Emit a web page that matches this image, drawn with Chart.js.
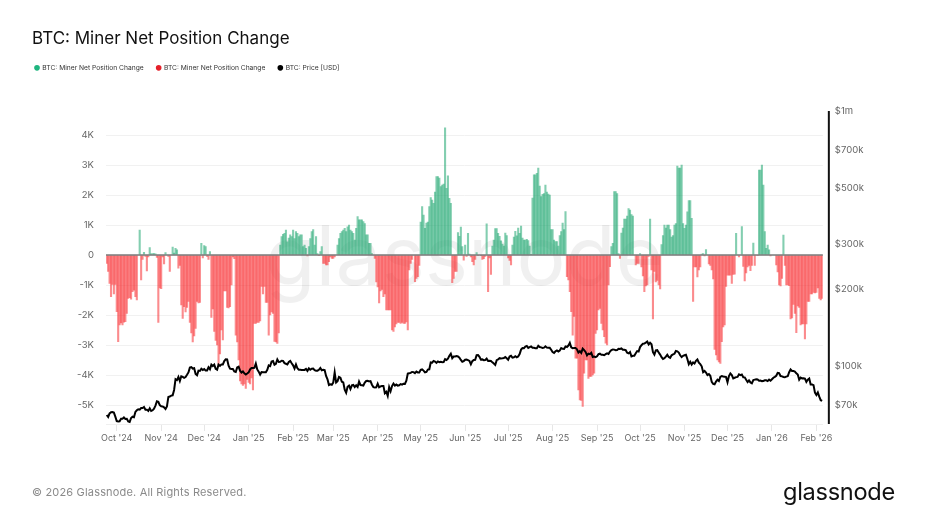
<!DOCTYPE html>
<html><head><meta charset="utf-8">
<style>
html,body{margin:0;padding:0;background:#fff;width:952px;height:517px;overflow:hidden;font-family:Inter,sans-serif}
#wrap{position:relative;width:952px;height:517px}
canvas{position:absolute;left:0;top:0}
.t{position:absolute;white-space:nowrap}
#title{left:32px;top:27px;font-size:17px;line-height:22px;color:#111}
#copy{left:32px;top:484px;font-size:11px;line-height:16px;color:#8a8a8a;letter-spacing:.17px}
#logo{left:783px;top:476px;font-size:23.6px;line-height:32px;color:#111;letter-spacing:-.3px}
</style></head><body>
<div id="wrap">
<canvas id="c" width="952" height="517"></canvas>
<div class="t" id="title">BTC: Miner Net Position Change</div>
<div class="t" id="copy">© 2026 Glassnode. All Rights Reserved.</div>
<div class="t" id="logo">glassnode</div>
</div>
<script src="https://cdn.jsdelivr.net/npm/chart.js@4/dist/chart.umd.js"></script>
<script>
const firstDay = [2024, 8, 24];
const netChange = [
-280,-550,-950,-1390,-980,-1300,-980,-1890,-2890,-2330,
-2260,-2330,-2240,-2220,-1950,-1450,-1420,-1470,-1220,-1170,
-1390,-1500,0,830,-830,-150,90,-50,-530,-60,
250,40,50,50,40,-80,-2250,-1100,-1120,-60,
-300,80,0,-50,-550,0,260,60,220,170,
-440,-350,-1660,-2110,-1720,-1900,-1750,-1550,-2250,-2600,
-2900,-2700,-2450,-1550,-1600,-1580,390,-100,310,280,
-50,-150,110,-2080,-1800,-2550,-2850,-3000,-3660,-3300,
-2500,-2830,-1200,-1200,-1750,-1760,-1720,-1000,-60,-120,
-2670,-2900,-3500,-4200,-4300,-4350,-4300,-4450,-4150,-4250,
-4300,-4100,-4500,-2280,-2280,-2250,-2250,-2200,-1050,-1300,
-1050,-1580,-1580,-2670,-2000,-1900,-1950,-2880,-2900,-2950,
-2600,330,610,690,720,830,440,560,670,610,
830,550,780,720,610,670,670,280,330,220,
-30,280,550,780,850,330,610,50,-20,110,
280,-280,-280,-330,-330,-220,-60,-110,-110,-60,
0,330,550,720,780,830,890,780,940,1000,
830,780,720,500,890,1280,1170,1170,1170,1110,
1050,670,670,390,390,50,0,-110,-900,-1060,
-1600,-1200,-1150,-1390,-1300,-1830,-1830,-1830,-1830,-2500,
-2550,-2400,-2300,-2250,-2250,-2280,-2250,-2280,-2280,-2230,
-2500,-500,-280,-150,0,-890,-780,-720,-350,1100,
1610,1330,890,1060,1100,1610,1910,1830,1720,2100,
2610,2610,2560,2280,2330,2360,4240,2220,2640,1890,
1720,-920,-780,-550,-550,750,620,930,280,-170,
330,-50,720,30,-60,-220,-330,-150,80,-20,
0,-10,-150,-120,-50,1040,-1220,-100,-650,300,
500,880,880,720,620,470,360,300,730,650,
-100,-180,-330,330,600,790,640,900,720,960,
560,500,500,520,480,300,20,1900,2670,2670,
2720,2900,2300,1950,2020,2050,2330,2100,2030,2000,
850,850,500,450,450,300,650,780,1060,850,
1450,-720,-830,-1220,-1890,-2670,-2050,-3440,-3440,-4500,
-4830,-4850,-5050,-3940,-3500,-3500,-4110,-4050,-4050,-4000,
-3940,-2610,-2500,-1830,-1780,-2280,-2500,-2720,-2940,-3000,
-1000,-390,280,390,2110,2110,2050,50,-110,730,
900,1200,1200,1300,1550,1500,1350,1300,0,-330,
-280,-280,50,-400,-700,-1220,-1030,-1000,-50,1200,
-500,-2130,-550,-900,-850,-1000,-1130,350,650,1000,
900,1000,1000,850,600,650,1000,1050,2960,2900,
2900,3000,1050,890,1000,1440,1810,1810,1220,-1550,
-400,-400,-730,-500,-400,30,50,-30,180,0,
-300,-350,-500,-800,-3150,-3330,-3500,-3560,-3610,-2890,
-2400,-2330,-1050,-670,-670,-670,-950,-650,-640,720,
0,-60,0,950,-380,-860,-600,-400,-350,-520,
-350,400,-350,0,-20,2830,2830,3000,2330,780,
220,330,170,-30,0,0,0,-330,-560,-1000,
-1030,-780,660,-350,-1000,-1000,-1020,-2130,-2100,-1650,
-1950,-2590,-1700,-1750,-2330,-2300,-2300,-2800,-2300,-1550,
-1550,-1300,-1300,-1250,-1260,-1250,-1100,-1450,-1500,-1450
];
const priceK = [
64.2,63.1,65.2,65.8,65.9,65.6,63.3,
60.8,60.6,60.7,62.1,62.1,62.8,62.0,62.1,60.6,60.3,62.5,63.2,62.9,66.0,67.0,67.6,67.4,68.4,68.4,69.0,67.4,67.4,66.6,68.2,66.6,67.0,68.0,69.9,72.7,72.3,70.2,
69.5,69.4,68.8,67.8,69.4,75.6,75.9,76.5,76.7,80.5,88.7,88.0,90.5,87.3,91.1,90.6,89.8,90.5,92.3,94.3,98.5,99.0,97.7,98.0,93.0,91.9,95.9,95.6,97.5,96.4,
97.2,95.9,96.0,98.8,97.0,101.2,99.9,101.2,97.4,96.6,101.2,100.0,101.4,101.4,104.5,106.1,106.0,100.2,97.5,97.2,97.3,95.1,94.7,98.7,99.4,95.8,94.2,95.2,93.5,92.6,93.4,
94.4,96.9,98.1,98.2,98.3,102.1,96.9,95.0,92.5,94.7,94.5,94.5,94.5,96.5,100.5,99.9,104.1,104.5,101.1,102.0,106.1,103.7,103.9,104.8,104.7,102.6,102.0,101.3,103.7,104.7,102.4,
100.6,97.7,101.4,97.9,96.6,96.6,96.5,96.5,96.5,97.4,95.7,97.8,96.6,97.5,97.6,96.2,95.8,95.8,96.6,98.2,96.2,96.6,96.3,91.4,88.7,84.2,84.7,84.4,
86.0,94.3,86.1,87.2,90.6,90.0,86.7,86.2,80.7,78.5,82.9,83.7,81.1,83.9,84.3,82.6,84.0,82.7,86.8,84.2,84.0,83.8,86.0,87.3,87.5,86.9,87.2,84.4,82.6,82.4,82.5,
85.2,82.5,83.1,83.5,83.5,78.2,79.2,76.3,82.6,79.6,83.4,85.3,83.7,84.5,83.7,84.0,84.9,84.5,85.2,85.1,87.5,93.4,93.7,93.9,94.7,94.6,93.7,95.0,94.3,94.2,
96.5,96.9,95.9,94.3,94.7,96.8,97.0,103.2,103.0,104.6,104.1,102.8,104.2,103.5,103.8,103.4,103.5,106.4,105.6,106.8,109.6,111.6,107.3,108.9,109.0,109.4,108.9,107.8,105.6,103.9,104.5,
105.7,105.9,105.4,104.7,101.5,104.4,105.6,105.7,110.2,110.3,108.6,105.9,106.1,105.4,105.5,106.8,104.6,104.8,104.6,103.3,102.2,100.9,105.4,106.0,107.3,107.0,107.1,107.3,108.4,107.2,
105.7,108.9,109.6,107.9,108.2,109.2,108.2,108.9,111.3,115.9,117.5,117.4,119.1,119.8,117.7,118.6,119.3,117.9,117.9,117.3,117.4,120.0,118.6,118.3,117.6,118.0,119.4,118.0,117.9,117.8,115.8,
113.3,112.5,114.2,115.0,114.0,115.0,117.5,116.7,116.5,119.3,118.7,120.2,123.3,118.4,117.4,117.5,117.5,116.2,112.9,114.3,112.5,116.9,115.4,113.5,110.1,111.8,111.2,112.6,108.4,108.8,108.2,
109.2,111.2,111.7,110.7,110.7,110.2,111.2,112.1,111.4,113.9,115.5,116.0,115.9,115.3,115.4,116.8,116.5,117.1,115.7,115.7,115.3,112.7,112.0,113.3,109.0,109.6,109.7,112.1,114.4,114.0,
118.6,120.6,122.3,122.4,123.5,124.7,121.4,123.3,121.7,113.2,110.8,115.0,115.3,113.0,110.8,108.2,106.5,107.2,108.7,110.6,108.4,107.6,110.1,111.0,111.6,114.5,114.1,112.9,110.1,108.3,109.6,
110.1,110.6,106.5,101.6,103.9,101.3,103.3,102.3,104.7,106.0,103.0,101.7,99.7,94.5,95.6,94.2,92.1,92.9,91.5,86.6,85.1,84.7,86.8,88.3,87.3,90.5,91.3,90.9,90.8,90.4,
86.3,91.3,93.4,92.1,89.4,89.9,90.4,90.6,92.7,92.0,92.5,90.3,90.2,88.2,86.4,87.8,86.2,85.5,88.1,88.4,88.6,88.5,87.5,87.6,87.2,87.3,87.8,87.8,87.2,88.4,87.5,
88.7,89.9,90.6,91.5,93.9,93.7,91.3,91.0,90.5,90.4,90.8,91.1,94.5,96.9,95.6,95.5,95.1,93.6,92.6,88.3,90.0,89.4,89.5,89.2,86.6,88.3,89.2,84.6,84.5,84.1,78.6,
76.9,78.7,75.8,73.4,72.9
];
const leftTicks = [-5000,-4000,-3000,-2000,-1000,0,1000,2000,3000,4000];
const leftTickLabels = ['-5K','-4K','-3K','-2K','-1K','0','1K','2K','3K','4K'];
const rightTicks = [70,100,200,300,500,700,1000];
const rightTickLabels = ['$70k','$100k','$200k','$300k','$500k','$700k','$1m'];
const monthNames = ['Jan','Feb','Mar','Apr','May','Jun','Jul','Aug','Sep','Oct','Nov','Dec'];

const dayLabels = netChange.map((_, i) => {
  const d = new Date(Date.UTC(firstDay[0], firstDay[1], firstDay[2] + i));
  return d.getUTCDate() === 1 ? monthNames[d.getUTCMonth()] + " '" + String(d.getUTCFullYear()).slice(2) : '';
});
const gains = netChange.map(v => v > 0 ? v : null);
const losses = netChange.map(v => v < 0 ? v : null);

const FONT = 'Inter, sans-serif';
const overlay = {
  id: 'overlay',
  beforeDatasetsDraw(chart) {
    const { ctx, chartArea: a } = chart;
    ctx.save();
    ctx.font = '400 82px ' + FONT;
    ctx.fillStyle = 'rgba(0,0,0,0.06)';
    ctx.textAlign = 'center';
    ctx.textBaseline = 'alphabetic';
    ctx.fillText('glassnode', (a.left + a.right) / 2, 285);
    ctx.restore();
  },
  afterDatasetsDraw(chart) {
    const { ctx, chartArea: a, scales } = chart;
    const y0 = scales.y.getPixelForValue(0);
    ctx.save();
    ctx.strokeStyle = '#7a7a7a';
    ctx.lineWidth = 1.6;
    ctx.beginPath(); ctx.moveTo(a.left, y0); ctx.lineTo(a.right, y0); ctx.stroke();
    ctx.strokeStyle = '#111';
    ctx.lineWidth = 2;
    ctx.beginPath(); ctx.moveTo(a.right + 6, a.top); ctx.lineTo(a.right + 6, a.bottom); ctx.stroke();
    ctx.restore();
  }
};

const chart = new Chart(document.getElementById('c'), {
  data: {
    labels: dayLabels,
    datasets: [
      { type: 'line', label: 'BTC: Price [USD]', data: priceK, yAxisID: 'y2', order: 0,
        borderColor: '#000', backgroundColor: '#000', borderWidth: 2, pointRadius: 0, tension: 0 },
      { type: 'bar', label: 'BTC: Miner Net Position Change', data: gains, yAxisID: 'y', order: 1, grouped: false,
        backgroundColor: 'rgba(30,165,112,0.55)', legendColor: '#1fb57f', barPercentage: 1, categoryPercentage: 1 },
      { type: 'bar', label: 'BTC: Miner Net Position Change', data: losses, yAxisID: 'y', order: 1, grouped: false,
        backgroundColor: 'rgba(247,40,44,0.54)', legendColor: '#e5202a', barPercentage: 1, categoryPercentage: 1 }
    ]
  },
  plugins: [overlay],
  options: {
    responsive: false,
    animation: false,
    devicePixelRatio: 1,
    layout: { padding: { left: 22, right: 0, top: 51.5, bottom: 69 } },
    plugins: {
      tooltip: { enabled: false },
      title: { display: false },
      legend: {
        display: true, position: 'top', align: 'start',
        labels: {
          font: { family: FONT, size: 6.7 }, color: '#333', padding: 13,
          usePointStyle: true, pointStyle: 'circle', boxWidth: 4, boxHeight: 4,
          generateLabels(c) {
            return [1, 2, 0].map(i => {
              const ds = c.data.datasets[i];
              const col = ds.legendColor || '#000';
              return { text: ds.label, fillStyle: col, strokeStyle: col, lineWidth: 0, pointStyle: 'circle', datasetIndex: i, hidden: false, fontColor: '#333' };
            });
          }
        }
      }
    },
    scales: {
      x: {
        type: 'category', offset: true,
        grid: { drawOnChartArea: false, offset: false, drawTicks: true, tickLength: 7,
          tickColor: ctx => (dayLabels[ctx.index] ? '#e6e6e6' : 'rgba(0,0,0,0)') },
        border: { display: true, color: '#efefef', width: 1 },
        ticks: { autoSkip: false, maxRotation: 0, minRotation: 0, padding: 2,
          font: { family: FONT, size: 9 }, color: '#666',
          callback(v, i) { return dayLabels[i]; } },
        afterFit(s) { s.height = 24; }
      },
      y: {
        position: 'left', min: -5633, max: 4800,
        grid: { color: '#f1f1f1', lineWidth: 1, drawTicks: false },
        border: { display: false },
        ticks: { padding: 12, font: { family: FONT, size: 9.5 }, color: '#666',
          callback(v) { const i = leftTicks.indexOf(v); return i >= 0 ? leftTickLabels[i] : ''; } },
        afterBuildTicks(s) { s.ticks = leftTicks.map(v => ({ value: v })); },
        afterFit(s) { s.width = 84; }
      },
      y2: {
        type: 'logarithmic', position: 'right', min: 59.2, max: 1000,
        grid: { display: false, drawTicks: false },
        border: { display: false },
        ticks: { padding: 12, font: { family: FONT, size: 9.5 }, color: '#666', autoSkip: false,
          callback(v) { const i = rightTicks.indexOf(v); return i >= 0 ? rightTickLabels[i] : ''; } },
        afterBuildTicks(s) { s.ticks = rightTicks.map(v => ({ value: v })); },
        afterFit(s) { s.width = 129.15; }
      }
    }
  }
});
const baseFit = chart.legend.fit;
chart.legend.fit = function () { baseFit.call(this); this.height = 59.5; };
chart.update('none');
</script>
</body></html>
